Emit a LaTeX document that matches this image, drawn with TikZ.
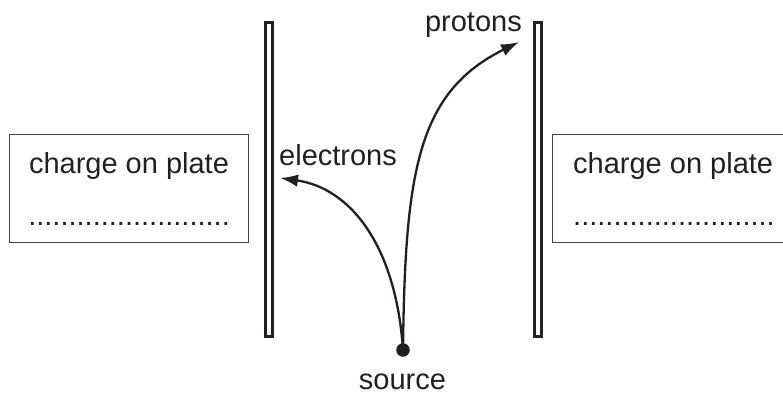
\documentclass[tikz,border=0pt]{standalone}
\usepackage{fontspec}
\setmainfont{Liberation Sans}
\usetikzlibrary{arrows.meta}
\definecolor{ink}{HTML}{231F20}
\tikzset{
  lbl/.style={inner sep=0pt, text=ink, font=\fontsize{29}{34}\selectfont},
  plate/.style={draw=ink, line width=2.8pt, fill=white},
  chargebox/.style={draw=ink!85, line width=1.4pt},
  path/.style={draw=ink, line width=2.3pt, -{Latex[length=18pt,width=12.5pt]}},
}
\begin{document}
\begin{tikzpicture}[x=1pt,y=-1pt]
\useasboundingbox (0,0) rectangle (783,396);
\clip (0,0) rectangle (783,396);
% plates
\draw[plate] (265.4,22.4) rectangle (272.6,336.6);
\draw[plate] (534.4,22.4) rectangle (541.6,336.6);
% boxes
\draw[chargebox] (9.7,134.7) rectangle (248.3,242.3);
\draw[chargebox] (552.7,134.7) rectangle (800,242.3);
\node[lbl, anchor=base] (lt) at (129,173) {charge on plate};
\node[lbl, anchor=base] (ld) at (129,225) {.........................};
\node[lbl, anchor=base west] (rt) at (573,173) {charge on plate};
\node[lbl, anchor=base west] (rd) at (573,225) {.........................};
% source
\node[circle, fill=ink, minimum size=13.5pt, inner sep=0pt] (src) at (403,350) {};
\node[lbl, anchor=base] (srcl) at (402.5,389.5) {source};
\coordinate (etip) at (280,178);
\coordinate (ptip) at (519,42);
\draw[path] (src.center) .. controls (396,245) and (350,188) .. (etip);
\draw[path] (src.center) .. controls (405,170) and (418,92) .. (ptip);
\node[lbl, anchor=base west] (el) at (279,165) {electrons};
\node[lbl, anchor=base east] (pl) at (522,32) {protons};
\end{tikzpicture}
\end{document}
